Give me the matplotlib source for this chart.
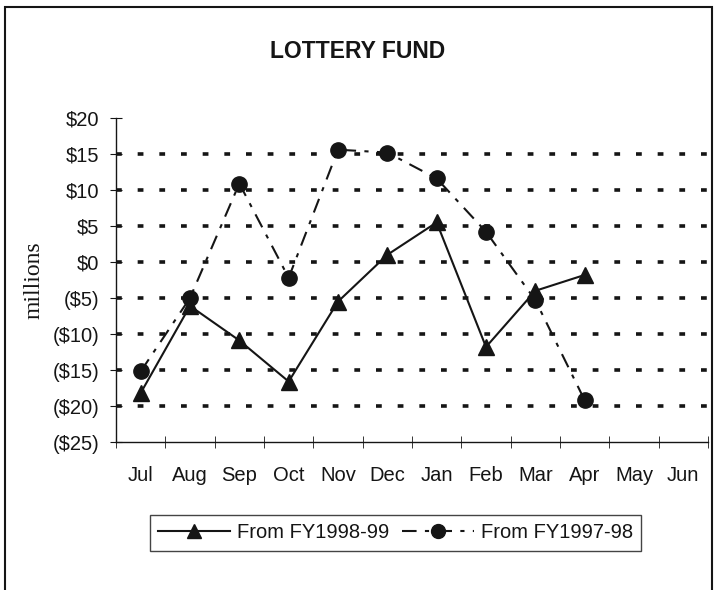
import matplotlib
matplotlib.use("Agg")
import matplotlib.pyplot as plt
import numpy as np
from matplotlib.patches import Rectangle
from matplotlib.lines import Line2D

months = ["Jul", "Aug", "Sep", "Oct", "Nov", "Dec", "Jan", "Feb", "Mar", "Apr", "May", "Jun"]
fy9899 = [-18.2, -6.1, -10.9, -16.6, -5.5, 1.0, 5.5, -11.8, -4.0, -1.8]
fy9798 = [-15.2, -5.0, 10.9, -2.2, 15.6, 15.2, 11.6, 4.2, -5.3, -19.2]
yticks = [20, 15, 10, 5, 0, -5, -10, -15, -20, -25]
ylabels = ["$20", "$15", "$10", "$5", "$0", "($5)", "($10)", "($15)", "($20)", "($25)"]
grid_vals = [15, 10, 5, 0, -5, -10, -15, -20]

plt.rcParams['font.family'] = ['Liberation Sans', 'DejaVu Sans']
fig = plt.figure(figsize=(7.14, 5.9), dpi=100)
ax = fig.add_axes([116/714, (590-442)/590, (708-116)/714, (442-118)/590])

ink = '#151515'
for g in grid_vals:
    ax.axhline(g, color=ink, lw=2.6, linestyle=(0, (1.6, 4.4)), zorder=1)

x98 = np.arange(len(fy9899))
x97 = np.arange(len(fy9798))
dash97 = (0, (7, 4, 2, 4))
ax.plot(x98, fy9899, color=ink, lw=1.5, marker='^', ms=11, zorder=3)
ax.plot(x97, fy9798, color=ink, lw=1.5, linestyle=dash97, marker='o', ms=11, zorder=3)

ax.set_xlim(-0.5, len(months) - 0.5)
ax.set_ylim(-25, 20)
ax.set_yticks(yticks)
ax.set_yticklabels(ylabels)
ax.set_xticks(np.arange(len(months)))
ax.set_xticklabels(months)
ax.set_xticks(np.arange(len(months) + 1) - 0.5, minor=True)
ax.tick_params(axis='x', which='major', length=0, pad=17, labelsize=14.5, colors=ink)
ax.tick_params(axis='x', which='minor', length=8, direction='inout', color=ink)
ax.tick_params(axis='y', length=8, direction='inout', pad=8, labelsize=14.5, colors=ink)
for s in ['top', 'right']:
    ax.spines[s].set_visible(False)
for s in ['left', 'bottom']:
    ax.spines[s].set_color(ink)
    ax.spines[s].set_linewidth(1.0)

ax.set_ylabel("millions", family=['Liberation Serif', 'DejaVu Serif'], fontsize=17, color=ink, labelpad=6)
fig.text(358/714, 1 - 51/590, "LOTTERY FUND", ha='center', va='center', fontsize=16.5, fontweight='bold', color=ink)

handles = [Line2D([], [], color=ink, lw=1.5, marker='^', ms=10),
           Line2D([], [], color=ink, lw=1.5, linestyle=dash97, marker='o', ms=10)]
leg = fig.legend(handles, ["From FY1998-99", "From FY1997-98"], loc='center',
                 bbox_to_anchor=(395.5/714, 1 - 533/590), ncol=2, fontsize=14.5,
                 frameon=True, fancybox=False, edgecolor=ink, handlelength=3.6,
                 columnspacing=0.6, handletextpad=0.35, borderpad=0.4)
leg.get_frame().set_linewidth(1.0)
for t in leg.get_texts():
    t.set_color(ink)

fig.patches.append(Rectangle((5/714, -0.05), 707/714, 1.05 - 7/590, transform=fig.transFigure,
                             fill=False, edgecolor=ink, lw=1.5))

fig.savefig("out.png", dpi=100)
